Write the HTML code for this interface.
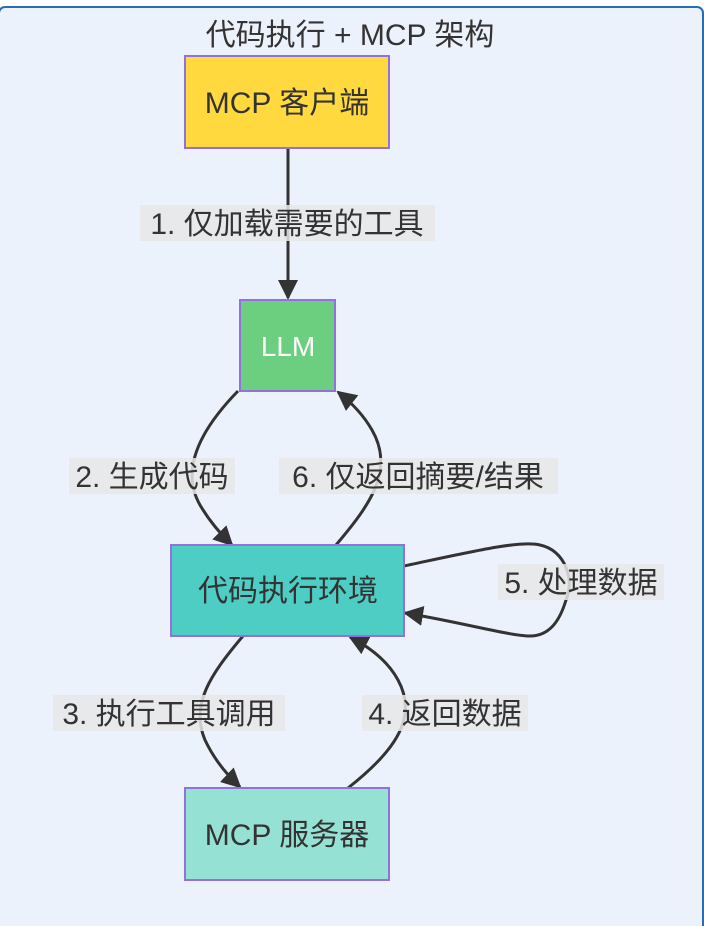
<!DOCTYPE html>
<html><head><meta charset="utf-8"><style>
html,body{margin:0;padding:0;background:#fff;}
svg{display:block;}
text{font-family:"Liberation Sans","Noto Sans CJK SC",sans-serif;fill:#333;}
</style></head><body>
<svg width="704" height="926" viewBox="0 0 704 926" xmlns="http://www.w3.org/2000/svg">
<defs>
<marker id="b" viewBox="0 0 10 10" refX="9" refY="5" markerWidth="20" markerHeight="20" markerUnits="userSpaceOnUse" orient="auto">
<path d="M0,0 L10,5 L0,10 z" fill="#333"/></marker>
</defs>
<rect x="0" y="0" width="704" height="926" fill="#fff"/>
<rect x="-1" y="7" width="704" height="930" rx="6" fill="#ECF2FC" stroke="#2B6CB0" stroke-width="2"/>
<text x="350" y="45" font-size="30" text-anchor="middle">代码执行 + MCP 架构</text>

<g fill="none" stroke="#333" stroke-width="3">
<path d="M288,148 L288,298" marker-end="url(#b)"/>
<path d="M238,391 C200,430 180,470 200,505 C210,522 220,533 232,545" marker-end="url(#b)"/>
<path d="M336,545 C370,505 395,470 372,430 C364,416 352,403 338,392" marker-end="url(#b)"/>
<path d="M404,566 C470,552 520,540 540,545 C565,550 575,580 566,600 C560,620 550,636 530,636 C510,636 460,622 405,613" marker-end="url(#b)"/>
<path d="M243,636 C210,675 190,705 205,740 C213,757 225,773 240,787" marker-end="url(#b)"/>
<path d="M348,788 C390,755 420,720 398,680 C390,665 375,650 350,637" marker-end="url(#b)"/>
</g>

<rect x="185" y="56" width="204" height="92" fill="#FFD93D" stroke="#9370DB" stroke-width="2"/>
<text x="287" y="113" font-size="30" text-anchor="middle">MCP 客户端</text>
<rect x="240" y="300" width="95" height="91" fill="#6BCF7F" stroke="#9370DB" stroke-width="2"/>
<text x="288" y="356" font-size="28" text-anchor="middle" style="fill:#fff">LLM</text>
<rect x="171" y="545" width="233" height="91" fill="#4ECDC4" stroke="#9370DB" stroke-width="2"/>
<text x="288" y="601" font-size="30" text-anchor="middle">代码执行环境</text>
<rect x="185" y="788" width="204" height="92" fill="#95E1D3" stroke="#9370DB" stroke-width="2"/>
<text x="287" y="845" font-size="30" text-anchor="middle">MCP 服务器</text>

<g font-size="30">
<rect x="140" y="205" width="295" height="36" fill="#E8E8E8" opacity="0.85"/>
<text x="287" y="234" text-anchor="middle">1. 仅加载需要的工具</text>
<rect x="69" y="458" width="166" height="36" fill="#E8E8E8" opacity="0.85"/>
<text x="152" y="487" text-anchor="middle">2. 生成代码</text>
<rect x="279" y="458" width="279" height="36" fill="#E8E8E8" opacity="0.85"/>
<text x="418" y="487" text-anchor="middle">6. 仅返回摘要/结果</text>
<rect x="498" y="564" width="166" height="36" fill="#E8E8E8" opacity="0.85"/>
<text x="581" y="593" text-anchor="middle">5. 处理数据</text>
<rect x="53" y="695" width="232" height="36" fill="#E8E8E8" opacity="0.85"/>
<text x="169" y="724" text-anchor="middle">3. 执行工具调用</text>
<rect x="362" y="695" width="166" height="36" fill="#E8E8E8" opacity="0.85"/>
<text x="445" y="724" text-anchor="middle">4. 返回数据</text>
</g>
</svg>
</body></html>
